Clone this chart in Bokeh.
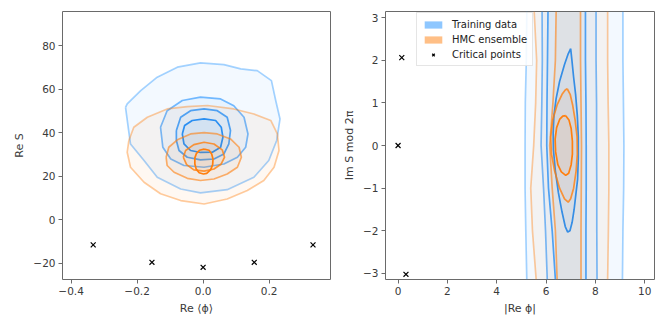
from bokeh.plotting import figure
from bokeh.layouts import row
from bokeh.models import Range1d, FixedTicker, Legend, LegendItem
from bokeh.embed import file_html
from bokeh.resources import INLINE

BLUE = "#1e90ff"
ORANGE = "#ff7f0e"
FONT = "DejaVu Sans"
NAN = float("nan")

# ---------------- Left panel: Re <phi> vs Re S (KDE contours, 4 levels each) -------------
train_left = [
    # level 1 (outermost)
    ([-0.235, -0.227, -0.220, -0.179, -0.139, -0.068, -0.008, 0.073, 0.154, 0.199, 0.223, 0.233,
      0.220, 0.207, 0.164, 0.114, 0.063, -0.008, -0.078, -0.139, -0.189, -0.230],
     [51.7, 42.6, 34.9, 27.3, 19.6, 14.2, 12.4, 13.9, 19.6, 27.3, 36.5, 46.4,
      54.9, 64.0, 68.6, 69.4, 71.4, 72.2, 70.2, 65.6, 59.4, 53.3]),
    # level 2
    ([-0.129, -0.109, -0.063, -0.008, 0.053, 0.093, 0.124, 0.136, 0.129, 0.104, 0.063, 0.003,
      -0.058, -0.098, -0.122],
     [42.6, 50.2, 54.9, 56.4, 55.6, 52.5, 47.2, 39.5, 33.4, 28.8, 25.7, 24.2, 25.0, 28.0, 33.4]),
    # level 3
    ([-0.081, -0.068, -0.038, 0.003, 0.043, 0.073, 0.083, 0.078, 0.063, 0.033, -0.008, -0.048,
      -0.073, -0.081],
     [41.1, 47.2, 50.2, 51.0, 50.2, 47.2, 41.1, 35.0, 30.3, 28.0, 27.6, 28.8, 31.9, 36.5]),
    # level 4 (innermost)
    ([-0.063, -0.056, -0.033, 0.003, 0.038, 0.055, 0.060, 0.053, 0.028, -0.008, -0.038, -0.058],
     [39.5, 43.4, 45.7, 46.4, 45.7, 42.6, 38.0, 33.4, 31.1, 31.0, 31.9, 34.9]),
]
hmc_left = [
    ([-0.225, -0.210, -0.169, -0.109, -0.048, 0.013, 0.093, 0.154, 0.205, 0.225, 0.230, 0.215,
      0.184, 0.134, 0.073, 0.003, -0.068, -0.129, -0.179, -0.220, -0.230],
     [36.5, 42.6, 47.2, 51.0, 52.1, 52.6, 51.0, 48.7, 45.7, 39.5, 31.9, 24.2,
      18.1, 13.5, 9.6, 7.3, 8.9, 12.0, 17.3, 24.2, 31.1]),
    ([-0.112, -0.104, -0.078, -0.038, 0.003, 0.043, 0.083, 0.109, 0.116, 0.104, 0.073, 0.033,
      -0.008, -0.048, -0.088, -0.109],
     [28.8, 33.4, 36.8, 39.5, 40.1, 39.5, 37.2, 33.4, 28.8, 24.2, 21.1, 18.8, 18.1, 19.1, 21.9, 25.0]),
    ([-0.060, -0.053, -0.028, 0.003, 0.033, 0.058, 0.065, 0.055, 0.033, 0.003, -0.028, -0.050],
     [28.8, 31.9, 34.6, 35.7, 34.9, 32.2, 28.8, 25.7, 23.4, 22.4, 23.0, 25.4]),
    ([0.003, 0.018, 0.026, 0.030, 0.029, 0.023, 0.011, 0.001, -0.012, -0.021, -0.025, -0.025,
      -0.020, -0.011],
     [32.5, 32.0, 30.3, 28.0, 25.4, 23.1, 21.4, 21.1, 21.7, 23.4, 25.7, 28.5, 30.6, 32.0]),
]
crit_left_x = [-0.333, -0.155, 0.0, 0.155, 0.333]
crit_left_y = [-11.5, -19.5, -21.8, -19.5, -11.5]
left_xticks = [-0.4, -0.2, 0.0, 0.2]
left_xlabels = ["\u22120.4", "\u22120.2", "0.0", "0.2"]
left_yticks = [-20, 0, 20, 40, 60, 80]
left_ylabels = ["\u221220", "0", "20", "40", "60", "80"]

# ---------------- Right panel: |Re phi| vs Im S mod 2pi -------------
band_y = [3.1416, 2.0, 1.0, 0.0, -1.0, -2.0, -3.1416]
train_bands = [
    ([5.22, 5.20, 5.16, 5.15, 5.15, 5.18, 5.22], [9.12, 9.12, 9.14, 9.16, 9.15, 9.12, 9.10]),
    ([5.84, 5.85, 5.83, 5.80, 5.90, 5.98, 6.05], [8.03, 8.03, 8.05, 8.05, 8.06, 8.06, 8.07]),
    ([6.08, 6.06, 6.04, 6.03, 6.10, 6.25, 6.38], [7.60, 7.60, 7.62, 7.63, 7.63, 7.62, 7.62]),
]
hmc_bands = [
    ([5.52, 5.62, 5.58, 5.50, 5.38, 5.45, 5.60], [8.50, 8.50, 8.52, 8.55, 8.55, 8.53, 8.50]),
    ([6.41, 6.38, 6.28, 6.15, 6.25, 6.38, 6.45], [7.40, 7.40, 7.42, 7.44, 7.43, 7.42, 7.42]),
]
train_loop_x = [7.00, 7.05, 7.12, 7.20, 7.27, 7.31, 7.31, 7.28, 7.22, 7.14, 7.06, 6.97, 6.88,
                6.78, 6.65, 6.50, 6.38, 6.30, 6.29, 6.32, 6.41, 6.55, 6.75, 6.90]
train_loop_y = [2.27, 2.00, 1.60, 1.20, 0.70, 0.20, -0.30, -0.80, -1.10, -1.50, -1.80, -2.00, -2.03,
                -1.90, -1.56, -1.10, -0.60, -0.10, 0.30, 0.70, 1.10, 1.50, 1.90, 2.15]
hmc_loop3_x = [6.86, 6.98, 7.08, 7.18, 7.26, 7.27, 7.22, 7.12, 7.00, 6.90, 6.75, 6.55, 6.35,
               6.22, 6.19, 6.27, 6.45, 6.65, 6.78]
hmc_loop3_y = [1.33, 1.20, 0.95, 0.60, 0.20, -0.20, -0.60, -1.00, -1.25, -1.33, -1.25, -1.00,
               -0.60, -0.20, 0.20, 0.60, 0.95, 1.20, 1.30]
hmc_loop4_x = [6.80, 6.93, 7.02, 7.07, 7.07, 7.02, 6.92, 6.80, 6.62, 6.48, 6.39, 6.37, 6.43,
               6.56, 6.68]
hmc_loop4_y = [0.70, 0.60, 0.40, 0.10, -0.20, -0.45, -0.65, -0.70, -0.62, -0.45, -0.15, 0.15,
               0.42, 0.62, 0.69]
crit_right_x = [0.15, 0.0, 0.32]
crit_right_y = [2.06, 0.0, -3.02]
right_xticks = [0, 2, 4, 6, 8, 10]
right_yticks = [-3, -2, -1, 0, 1, 2, 3]
right_ylabels = ["\u22123", "\u22122", "\u22121", "0", "1", "2", "3"]

LINE_ALPHA = [0.4, 0.6, 0.8, 1.0]
FILL_ALPHA = 0.055


def style(p):
    p.toolbar_location = None
    p.grid.visible = False
    p.outline_line_color = "#6a6a6a"
    p.outline_line_width = 1
    p.background_fill_color = "white"
    p.border_fill_color = "white"
    for ax in (p.xaxis[0], p.yaxis[0]):
        ax.axis_line_color = None
        ax.major_tick_line_color = "#6a6a6a"
        ax.major_tick_out = 4
        ax.major_tick_in = 0
        ax.minor_tick_line_color = None
        ax.major_label_text_font = FONT
        ax.major_label_text_font_size = "10.5px"
        ax.major_label_text_color = "#3a3a3a"
        ax.axis_label_text_font = FONT
        ax.axis_label_text_font_size = "11px"
        ax.axis_label_text_font_style = "normal"
        ax.axis_label_text_color = "#3a3a3a"
        ax.major_label_standoff = 3
        ax.axis_label_standoff = 4


def draw_loops(p, loops, color, line_alphas):
    for (xs, ys), la in zip(loops, line_alphas):
        p.patch(xs, ys, fill_color=color, fill_alpha=FILL_ALPHA, line_color=None)
    for (xs, ys), la in zip(loops, line_alphas):
        p.line(list(xs) + [xs[0]], list(ys) + [ys[0]], line_color=color, line_alpha=la,
               line_width=1.7)


# ---- left figure
p1 = figure(width=338, height=324, output_backend="svg", toolbar_location=None,
            x_range=Range1d(-0.426, 0.386), y_range=Range1d(-27.4, 95.8),
            min_border_left=62, min_border_right=8, min_border_top=11, min_border_bottom=45)
style(p1)
draw_loops(p1, train_left, BLUE, LINE_ALPHA)
draw_loops(p1, hmc_left, ORANGE, LINE_ALPHA)
p1.scatter(crit_left_x, crit_left_y, marker="x", size=7, line_color="black", line_width=1.2)
p1.xaxis.ticker = FixedTicker(ticks=left_xticks)
p1.xaxis.major_label_overrides = dict(zip(left_xticks, left_xlabels))
p1.yaxis.ticker = FixedTicker(ticks=left_yticks)
p1.yaxis.major_label_overrides = dict(zip(left_yticks, left_ylabels))
p1.xaxis.axis_label = "Re \u27e8\u03d5\u27e9"
p1.yaxis.axis_label = "Re S"

# ---- right figure
p2 = figure(width=326, height=324, output_backend="svg", toolbar_location=None,
            x_range=Range1d(-0.51, 10.4), y_range=Range1d(-3.1416, 3.1416),
            min_border_left=47, min_border_right=10, min_border_top=11, min_border_bottom=45)
style(p2)


def band_poly(left, right):
    xs = list(left) + list(reversed(right))
    ys = list(band_y) + list(reversed(band_y))
    return xs, ys


def draw_bands(p, bands, loops, color):
    polys = [band_poly(l, r) for l, r in bands]
    for xs, ys in polys + loops:
        p.patch(xs, ys, fill_color=color, fill_alpha=FILL_ALPHA, line_color=None)
    k = 0
    for l, r in bands:
        p.line(l, band_y, line_color=color, line_alpha=LINE_ALPHA[k], line_width=1.7)
        p.line(r, band_y, line_color=color, line_alpha=LINE_ALPHA[k], line_width=1.7)
        k += 1
    for xs, ys in loops:
        p.line(list(xs) + [xs[0]], list(ys) + [ys[0]], line_color=color,
               line_alpha=LINE_ALPHA[k], line_width=1.7)
        k += 1


draw_bands(p2, train_bands, [(train_loop_x, train_loop_y)], BLUE)
draw_bands(p2, hmc_bands, [(hmc_loop3_x, hmc_loop3_y), (hmc_loop4_x, hmc_loop4_y)], ORANGE)
cp = p2.scatter(crit_right_x, crit_right_y, marker="x", size=7, line_color="black", line_width=1.2)
p2.xaxis.ticker = FixedTicker(ticks=right_xticks)
p2.yaxis.ticker = FixedTicker(ticks=right_yticks)
p2.yaxis.major_label_overrides = dict(zip(right_yticks, right_ylabels))
p2.xaxis.axis_label = "|Re \u03d5|"
p2.yaxis.axis_label = "Im S mod 2\u03c0"

# legend-only swatches (NaN geometry: nothing drawn in the plot area)
leg_blue = p2.quad(left=[NAN], right=[NAN], top=[NAN], bottom=[NAN], fill_color=BLUE,
                   fill_alpha=0.5, line_color=None)
leg_orange = p2.quad(left=[NAN], right=[NAN], top=[NAN], bottom=[NAN], fill_color=ORANGE,
                     fill_alpha=0.5, line_color=None)
legend = Legend(items=[LegendItem(label="Training data", renderers=[leg_blue]),
                       LegendItem(label="HMC ensemble", renderers=[leg_orange]),
                       LegendItem(label="Critical points", renderers=[cp])],
                location=(31, 213))
legend.label_text_font = FONT
legend.label_text_font_size = "10px"
legend.label_text_color = "#222222"
legend.glyph_width = 22
legend.glyph_height = 9
legend.label_height = 12
legend.label_standoff = 8
legend.spacing = 3
legend.padding = 5
legend.margin = 0
legend.border_line_color = "#cccccc"
legend.background_fill_alpha = 0.85
p2.add_layout(legend, "center")

layout = row(p1, p2)
open("out.html", "w").write(file_html(layout, INLINE))
